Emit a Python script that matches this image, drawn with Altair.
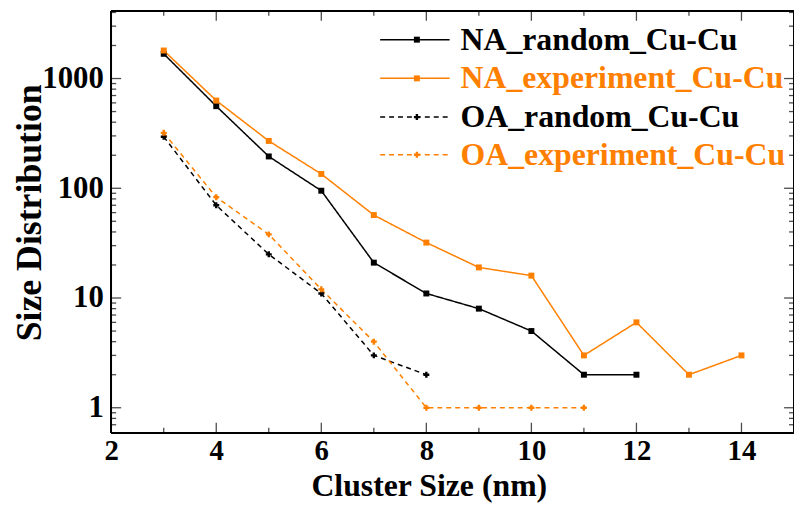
import altair as alt
import pandas as pd

# ---- data ----
series_names = ["NA_random_Cu-Cu", "NA_experiment_Cu-Cu", "OA_random_Cu-Cu", "OA_experiment_Cu-Cu"]

na_random_x = [3, 4, 5, 6, 7, 8, 9, 10, 11, 12]
na_random_y = [1680, 560, 195, 95, 21, 11, 8, 5, 2, 2]

na_exp_x = [3, 4, 5, 6, 7, 8, 9, 10, 11, 12, 13, 14]
na_exp_y = [1800, 630, 270, 135, 57, 32, 19, 16, 3, 6, 2, 3]

oa_random_x = [3, 4, 5, 6, 7, 8]
oa_random_y = [295, 70, 25, 11, 3, 2]

oa_exp_x = [3, 4, 5, 6, 7, 8, 9, 10, 11]
oa_exp_y = [320, 83, 38, 12, 4, 1, 1, 1, 1]

x_major = [2, 4, 6, 8, 10, 12, 14]
x_minor = [3, 5, 7, 9, 11, 13, 15]
y_major = [1, 10, 100, 1000]
y_minor = [0.7, 0.8, 0.9, 2, 3, 4, 5, 6, 7, 8, 9,
           20, 30, 40, 50, 60, 70, 80, 90,
           200, 300, 400, 500, 600, 700, 800, 900, 2000, 3000, 4000]

rows = []
for name, xs, ys in [(series_names[0], na_random_x, na_random_y),
                     (series_names[1], na_exp_x, na_exp_y),
                     (series_names[2], oa_random_x, oa_random_y),
                     (series_names[3], oa_exp_x, oa_exp_y)]:
    for a, b in zip(xs, ys):
        rows.append({"series": name, "x": a, "y": b})
df = pd.DataFrame(rows)

# ---- styling ----
W, H = 688, 425
FONT = "Liberation Serif"
ORANGE = "#FF8000"
colors = ["#000000", ORANGE, "#000000", ORANGE]
dashes = [[1, 0], [1, 0], [5, 4], [5, 4]]
shapes = ["square", "square", "cross", "cross"]

xscale = alt.Scale(domain=[2, 15], nice=False, zero=False)
yscale = alt.Scale(type="log", domain=[0.593, 4135], nice=False)
cscale = alt.Scale(domain=series_names, range=colors)
dscale = alt.Scale(domain=series_names, range=dashes)
sscale = alt.Scale(domain=series_names, range=shapes)

xaxis = alt.Axis(values=x_major, ticks=False, domain=False, grid=False,
                 labelFont=FONT, labelFontSize=29, labelFontWeight="bold",
                 labelColor="black", labelPadding=4, labelFlush=False,
                 title="Cluster Size (nm)", titleFont=FONT, titleFontSize=32,
                 titleFontWeight="bold", titleColor="black",
                 titleX=320, titleY=63, titleBaseline="alphabetic")
yaxis = alt.Axis(values=y_major, format="d", ticks=False, domain=False, grid=False,
                 labelFont=FONT, labelFontSize=31, labelFontWeight="bold",
                 labelColor="black", labelPadding=8, labelFlush=False,
                 title="Size Distribution", titleFont=FONT, titleFontSize=36,
                 titleFontWeight="bold", titleColor="black",
                 titleX=-71, titleY=203, titleBaseline="alphabetic", titleAngle=-90)

base = alt.Chart(df)
lines = base.mark_line(strokeWidth=1.5).encode(
    x=alt.X("x:Q", scale=xscale, axis=xaxis),
    y=alt.Y("y:Q", scale=yscale, axis=yaxis),
    color=alt.Color("series:N", scale=cscale, legend=None),
    strokeDash=alt.StrokeDash("series:N", scale=dscale, legend=None),
    detail="series:N",
)
points = base.mark_point(filled=True, size=36, opacity=1).encode(
    x=alt.X("x:Q", scale=xscale, axis=xaxis),
    y=alt.Y("y:Q", scale=yscale, axis=yaxis),
    color=alt.Color("series:N", scale=cscale, legend=None),
    shape=alt.Shape("series:N", scale=sscale, legend=None),
)

# ---- inward ticks (same field names so axes merge cleanly) ----
def xticks(vals, length, top):
    yv = length / 2 if top else H - length / 2
    return alt.Chart(pd.DataFrame({"x": vals})).mark_tick(
        orient="vertical", size=length, thickness=1.3, color="black").encode(
        x=alt.X("x:Q", scale=xscale, axis=xaxis), y=alt.value(yv))

def yticks(vals, length, right):
    xv = W - length / 2 if right else length / 2
    return alt.Chart(pd.DataFrame({"y": vals})).mark_tick(
        orient="horizontal", size=length, thickness=1.3, color="black").encode(
        y=alt.Y("y:Q", scale=yscale, axis=yaxis), x=alt.value(xv))

ticks = [xticks(x_major, 10, False), xticks(x_minor, 5, False),
         xticks(x_major, 10, True), xticks(x_minor, 5, True),
         yticks(y_major, 10, False), yticks(y_minor, 5, False),
         yticks(y_major, 10, True), yticks(y_minor, 5, True)]

# ---- frame ----
frame = [
    alt.Chart(df).mark_rule(color="black", strokeWidth=1.5).encode(
        x=alt.value(0), x2=alt.value(W), y=alt.value(0)),
    alt.Chart(df).mark_rule(color="black", strokeWidth=1.5).encode(
        x=alt.value(0), x2=alt.value(W), y=alt.value(H)),
    alt.Chart(df).mark_rule(color="black", strokeWidth=1.5).encode(
        y=alt.value(0), y2=alt.value(H), x=alt.value(0)),
    alt.Chart(df).mark_rule(color="black", strokeWidth=1.5).encode(
        y=alt.value(0), y2=alt.value(H), x=alt.value(W)),
]

# ---- legend (inside the plot, top right) ----
leg_rows = [29, 68, 107, 145]
legend_layers = []
for i, name in enumerate(series_names):
    one = alt.Chart(pd.DataFrame({"series": [name]}))
    ly = leg_rows[i]
    legend_layers.append(one.mark_rule(strokeWidth=1.5, color=colors[i],
                                       strokeDash=dashes[i]).encode(
        x=alt.value(271), x2=alt.value(341), y=alt.value(ly)))
    legend_layers.append(one.mark_point(filled=True, size=36, opacity=1,
                                        shape=shapes[i], color=colors[i]).encode(
        x=alt.value(308), y=alt.value(ly)))
    legend_layers.append(one.mark_text(align="left", baseline="middle", font=FONT,
                                       fontSize=32, fontWeight="bold",
                                       color=colors[i]).encode(
        x=alt.value(352), y=alt.value(ly), text="series:N"))

chart = alt.layer(lines, points, *ticks, *frame, *legend_layers).properties(
    width=W, height=H,
    padding={"left": 104, "top": 1, "right": 0, "bottom": 72},
    autosize=alt.AutoSizeParams(type="none"),
).configure_view(stroke=None).configure(background="white")

chart.save("out.html", embed_options={"renderer": "svg", "actions": False})
